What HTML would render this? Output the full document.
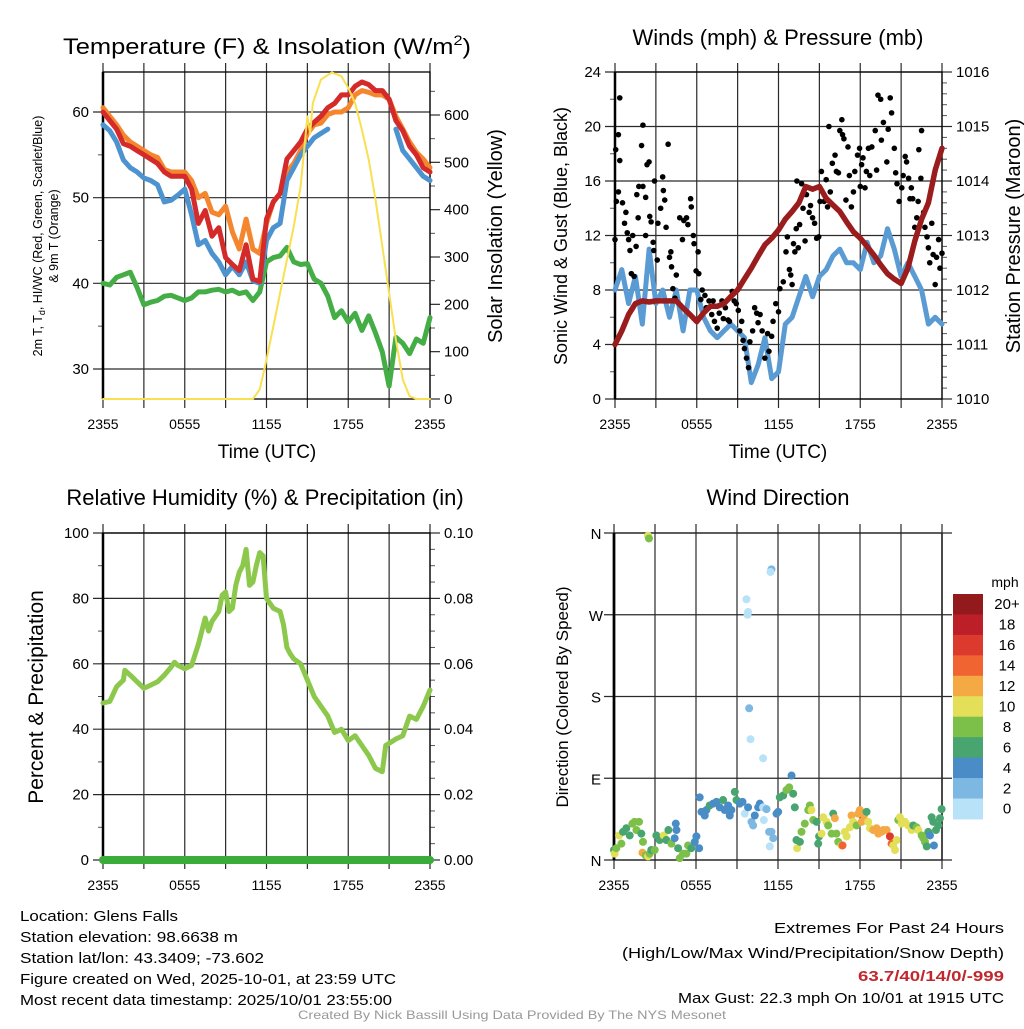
<!DOCTYPE html>
<html><head><meta charset="utf-8"><style>
html,body{margin:0;padding:0;background:#fff;}
svg text{font-family:"Liberation Sans",sans-serif;}
</style></head><body>
<svg id="fig" xmlns="http://www.w3.org/2000/svg" width="1024" height="1024" viewBox="0 0 1024 1024">
<rect width="1024" height="1024" fill="#fff"/>
<g id="layer"></g>
<text x="267" y="54" font-size="22" text-anchor="middle" textLength="408" lengthAdjust="spacingAndGlyphs">Temperature (F) &amp; Insolation (W/m<tspan font-size="14" dy="-9">2</tspan><tspan dy="9">)</tspan></text>
<text x="778" y="45" font-size="22" text-anchor="middle">Winds (mph) &amp; Pressure (mb)</text>
<text x="265" y="505" font-size="22" text-anchor="middle">Relative Humidity (%) &amp; Precipitation (in)</text>
<text x="778" y="505" font-size="22" text-anchor="middle">Wind Direction</text>
<text x="267" y="458" font-size="19" text-anchor="middle">Time (UTC)</text>
<text x="778" y="458" font-size="19" text-anchor="middle">Time (UTC)</text>
<text transform="translate(42,236) rotate(-90)" font-size="12.5" text-anchor="middle">2m T, T<tspan font-size="9" dy="3">d</tspan><tspan dy="-3">, HI/WC (Red, Green, Scarlet/Blue)</tspan></text>
<text transform="translate(58,236) rotate(-90)" font-size="12.5" text-anchor="middle">&amp; 9m T (Orange)</text>
<text transform="translate(502,236) rotate(-90)" font-size="20" text-anchor="middle">Solar Insolation (Yellow)</text>
<text transform="translate(567,236) rotate(-90)" font-size="18" text-anchor="middle">Sonic Wind &amp; Gust (Blue, Black)</text>
<text transform="translate(1020,236) rotate(-90)" font-size="20" text-anchor="middle">Station Pressure (Maroon)</text>
<text transform="translate(43,697) rotate(-90)" font-size="21" text-anchor="middle">Percent &amp; Precipitation</text>
<text transform="translate(568,697) rotate(-90)" font-size="17" text-anchor="middle">Direction (Colored By Speed)</text>
<text x="1005" y="587" font-size="14" text-anchor="middle">mph</text>
<g font-size="14.5">
<text x="20" y="921" textLength="158" lengthAdjust="spacingAndGlyphs">Location: Glens Falls</text>
<text x="20" y="942" textLength="218" lengthAdjust="spacingAndGlyphs">Station elevation: 98.6638 m</text>
<text x="20" y="963" textLength="244" lengthAdjust="spacingAndGlyphs">Station lat/lon: 43.3409; -73.602</text>
<text x="20" y="984" textLength="376" lengthAdjust="spacingAndGlyphs">Figure created on Wed, 2025-10-01, at 23:59 UTC</text>
<text x="20" y="1005" textLength="372" lengthAdjust="spacingAndGlyphs">Most recent data timestamp: 2025/10/01 23:55:00</text>
</g>
<g font-size="15" text-anchor="end">
<text x="1004" y="933" textLength="230" lengthAdjust="spacingAndGlyphs">Extremes For Past 24 Hours</text>
<text x="1004" y="958" textLength="382" lengthAdjust="spacingAndGlyphs">(High/Low/Max Wind/Precipitation/Snow Depth)</text>
<text x="1004" y="981" fill="#c0282d" font-weight="bold" textLength="146" lengthAdjust="spacingAndGlyphs">63.7/40/14/0/-999</text>
<text x="1004" y="1003" textLength="326" lengthAdjust="spacingAndGlyphs">Max Gust: 22.3 mph On 10/01 at 1915 UTC</text>
</g>
<text x="512" y="1019" font-size="12" fill="#999" text-anchor="middle" textLength="428" lengthAdjust="spacingAndGlyphs">Created By Nick Bassill Using Data Provided By The NYS Mesonet</text>
</svg>
<script>
const halfHours=[0,0.5,1,1.5,2,2.5,3,3.5,4,4.5,5,5.5,6,6.5,7,7.5,8,8.5,9,9.5,10,10.5,11,11.5,12,12.5,13,13.5,14,14.5,15,15.5,16,16.5,17,17.5,18,18.5,19,19.5,20,20.5,21,21.5,22,22.5,23,23.5,24];
const xTickLabels=["2355","0555","1155","1755","2355"];
const tempTicks=[30,40,50,60];
const solarTicks=[0,100,200,300,400,500,600];
const windTicks=[0,4,8,12,16,20,24];
const pressTicks=[1010,1011,1012,1013,1014,1015,1016];
const rhTicks=[0,20,40,60,80,100];
const precipTicks=["0.00","0.02","0.04","0.06","0.08","0.10"];
const dirTicks=["N","E","S","W","N"];
const airTemp=[60,59,58,56.3,56,55.5,55,54.5,54,53,52.5,52.5,52.5,51,47,48.5,45.5,46.5,43,42.2,41.5,44.5,40.5,40.2,47.5,49.5,50.5,54.5,55.5,56.5,58,58.8,59.5,60.5,61,62,62,63,63.5,63.2,62.5,62.5,61.5,59,57.8,56,55,53.5,53];
const temp9m=[60.5,59.5,58.5,57.3,56.5,56,55.5,55,54.7,53.3,53,53,53,52,50,50.5,48.3,48,49,46,44,47.5,44,43.5,47,49.5,50.5,53,54,55.5,57.5,58.5,58.7,59.7,60,60,60.5,62,62.5,62.3,62,62,61.5,59.5,58,56.5,55.3,54.5,53.5];
const windChill=[58.5,57.8,56.5,54.4,53.5,53,52.3,52,51.5,49.5,49.7,50.3,51,48,44.5,45,43.5,42.5,41,42,41,42.5,40.3,40,45,46.5,47,52,53.5,55,56,57,57.5,58,null,null,null,null,null,null,null,null,null,58,55.5,54.5,53.5,52.5,52];
const dewPoint=[40,39.8,40.7,41,41.3,39.5,37.5,37.8,38,38.5,38.6,38.3,38,38.3,39,39,39.2,39.3,39,39.2,38.8,39,38,39,42.5,43,43.2,44.2,42.5,42.2,42.3,40.5,40,38.5,36,36.8,35.5,36.5,34.5,36.2,34.2,32,28,33.7,33,31.8,33.5,33,36];
const solarTimes=[0,11,11.5,12,12.5,13,13.5,14,14.5,15,15.2,15.4,16,16.8,17.5,18,18.5,19,19.5,20,20.5,21,21.5,22,22.5,23,24];
const solarValues=[0,0,20,83,153,224,294,365,449,597,560,625,675,690,682,657,625,569,506,421,323,224,125,41,6,0,0];
const windSpeed=[8,9.5,7,9,5.5,11,7,8,6,8,5,8,8,6,5,4.5,5,5.5,5,4.5,1.2,2.5,4.5,1.5,2,5.5,6,7.5,9,7.5,9,9.5,10.5,11,10,10,9.5,11.5,10,10.5,12.5,11,9,10,9,8,5.5,6,5.5];
const pressure=[1011.0,1011.25,1011.55,1011.75,1011.8,1011.78,1011.8,1011.8,1011.8,1011.8,1011.67,1011.55,1011.42,1011.58,1011.7,1011.7,1011.75,1011.88,1012.0,1012.2,1012.4,1012.62,1012.83,1012.95,1013.1,1013.3,1013.44,1013.6,1013.9,1013.85,1013.9,1013.68,1013.56,1013.44,1013.25,1013.07,1012.95,1012.8,1012.64,1012.46,1012.3,1012.2,1012.12,1012.4,1012.9,1013.3,1013.6,1014.2,1014.6];
const gustTimes=[0,0.05,0.1,0.25,0.35,0.35,0.25,0.55,0.7,0.8,0.9,1.0,1.1,1.3,1.2,1.4,1.55,1.6,1.7,1.75,1.95,2.05,2.05,2.25,2.25,2.35,2.5,2.55,2.65,2.8,2.85,2.9,3.1,3.15,3.35,3.5,3.55,3.65,3.75,3.9,4.0,4.1,4.15,4.25,4.5,4.4,4.75,4.95,5.05,5.25,5.35,5.55,5.6,5.75,5.8,5.95,6.1,6.15,6.3,6.4,6.6,6.7,6.9,7.1,7.2,7.3,7.5,7.65,7.85,7.95,8.1,8.3,8.4,8.6,8.75,8.9,9.05,9.15,9.3,9.4,9.5,9.65,9.8,9.9,10.1,10.25,10.4,10.5,10.65,10.8,11.0,11.2,11.3,11.5,11.6,11.8,12.0,12.1,12.35,12.55,12.65,12.8,12.9,13.0,13.1,13.2,13.3,13.45,13.55,13.35,13.7,13.8,13.95,14.05,14.25,14.35,14.5,14.65,14.8,14.95,15.05,15.15,15.35,15.5,15.6,15.7,15.8,15.95,16.15,16.25,16.4,16.5,16.65,16.7,16.8,16.95,17.1,17.2,17.35,17.5,17.6,17.8,17.95,18.0,18.1,18.2,18.35,18.45,18.6,18.7,18.85,19.1,19.2,19.3,19.5,19.55,19.7,19.95,20.05,20.2,20.3,20.5,20.6,20.7,20.85,21.05,21.15,21.3,21.4,21.55,21.65,21.75,21.85,22.0,22.15,22.25,22.3,22.45,22.5,22.65,22.75,22.9,23.0,23.1,23.25,23.35,23.5,23.6,23.75,23.85,24.0];
const gustValues=[11.7,18.3,14.5,19.4,22.1,17.5,15.2,14.4,12.9,13.7,12.2,11.7,10.9,12.0,9.2,9.0,11.2,15.0,13.3,15.6,18.6,20.1,15.6,14.8,12.0,17.2,17.4,13.4,13.0,11.5,10.9,16.0,10.2,12.9,14.0,16.3,15.3,14.6,12.6,18.7,10.4,10.8,9.7,8.1,9.1,7.4,13.3,11.7,13.1,13.3,12.8,14.7,14.1,12.0,11.4,9.4,10.8,9.2,7.3,8.0,7.6,6.7,7.2,6.2,7.2,5.7,5.2,6.3,7.2,5.9,6.7,5.8,5.7,7.9,7.2,7.0,6.5,5.0,5.7,4.3,3.7,3.0,2.3,4.2,5.0,6.7,6.3,5.6,6.2,5.0,3.0,4.8,3.5,4.6,5.7,7.0,6.4,8.1,8.6,10.8,11.9,9.5,9.1,8.4,11.4,10.8,12.5,11.1,12.8,16.0,15.8,14.0,11.6,15.0,13.7,14.2,13.3,12.9,11.8,11.9,14.5,16.7,14.5,16.1,14.1,20.0,15.2,17.3,17.9,16.7,16.6,19.7,20.5,19.4,19.1,14.6,18.5,16.4,14.1,15.2,16.7,17.9,18.4,15.6,17.2,17.7,15.5,16.7,18.4,16.4,18.5,19.7,16.8,22.3,22.0,19.0,20.3,17.4,19.8,22.1,21.0,18.4,16.6,15.8,14.5,15.5,16.4,17.8,17.4,16.2,14.7,15.5,14.7,12.6,13.3,14.5,18.3,16.2,19.7,13.7,12.6,11.9,11.1,10.0,12.9,10.6,8.4,10.4,11.7,9.6,10.7];
const rhTimes=[0,0.5,1,1.5,1.6,2,2.5,3,3.5,4,4.5,5,5.25,5.5,6,6.5,7,7.5,7.75,8,8.5,8.75,9,9.25,9.5,9.75,10,10.25,10.5,10.75,11,11.25,11.5,11.75,12,12.5,13,13.25,13.5,13.75,14,14.5,15,15.5,16,16.5,17,17.5,18,18.5,19,19.5,20,20.5,20.75,21.5,22,22.5,23,23.5,24];
const rhValues=[48,48.5,53,55,58,56.5,54.5,52.5,53.5,54.5,56.5,59,60.5,59.5,58.5,59.5,66,74,70,73,76,81,82,76,77,84,88,90,95,84,85,90,94,93,80,77,76,72,65,63,61.5,60,55,50,47,44,39,40,36.5,38,35,32,28,27,35,37,38,44,43,47,52];
const precipValues=[0,0,0,0,0,0,0,0,0,0,0,0,0,0,0,0,0,0,0,0,0,0,0,0,0,0,0,0,0,0,0,0,0,0,0,0,0,0,0,0,0,0,0,0,0,0,0,0,0];
const dirTimes=[0,0.05,0.17,0.37,0.54,0.66,0.9,1.15,1.34,1.51,1.64,1.83,2.0,2.12,2.08,2.32,2.49,2.61,2.73,2.98,3.1,3.34,3.64,3.83,3.98,4.2,4.44,4.52,4.57,4.69,4.81,5.05,5.3,5.42,5.66,5.91,6.03,6.23,2.49,2.56,6.27,6.4,6.64,6.76,7.0,7.25,7.5,7.74,7.98,8.1,8.35,8.47,8.59,8.84,8.96,9.2,9.4,9.57,9.81,10.06,10.18,10.3,10.55,10.67,10.91,10.96,11.16,11.35,11.52,11.65,11.4,11.89,12.01,9.69,9.81,9.77,9.89,9.99,10.91,11.52,11.45,12.13,12.38,12.62,12.82,12.99,13.11,13.23,13.35,13.4,13.6,13.72,13.96,14.21,14.33,14.45,14.58,14.82,14.94,15.01,15.19,15.31,15.55,15.67,15.92,16.04,16.16,16.28,16.41,16.65,16.72,16.89,17.02,17.26,17.38,17.5,17.75,17.87,17.99,18.12,18.29,18.48,18.6,18.73,18.97,19.21,19.34,19.58,19.7,19.95,20.19,20.31,20.43,20.56,20.68,20.8,20.92,21.04,21.29,21.53,21.78,21.9,22.14,22.27,22.51,22.63,22.75,22.88,23.0,23.12,23.24,23.36,23.41,23.56,23.73,23.85,23.97];
const dirValues=[11,7,13,27,18,31,35,27,40,42,33,42,29,20,8,5,4,7,11,11,27,22,27,22,33,18,24,40,33,13,2,7,7,16,13,20,26,13,357,354,69,53,49,55,60,62,64,58,66,55,60,49,55,75,66,62,64,51,58,42,38,49,58,62,58,44,56,31,31,24,15,51,53,287,273,270,167,133,112,320,317,69,71,77,80,93,73,58,22,13,20,31,40,55,60,55,44,42,18,26,29,47,42,38,29,51,46,29,20,16,16,31,26,36,49,42,38,51,55,42,49,53,42,35,33,35,29,31,33,33,26,18,16,11,22,44,47,40,42,38,33,38,36,33,27,24,20,15,31,27,47,42,16,33,38,46,56];
const dirSpeeds=[7,10,9,10,9,7,7,6,8,8,9,8,7,8,13,8,10,9,6,8,6,7,10,7,6,8,4,4,4,6,8,8,8,8,7,4,4,4,10,8,4,4,4,4,6,4,4,4,6,4,4,4,4,6,6,4,4,0,4,2,2,4,4,4,0,0,2,2,2,2,0,4,4,0,0,0,2,0,0,2,0,6,7,8,8,4,6,6,6,10,6,8,8,8,8,10,8,6,6,6,10,10,10,8,8,6,12,8,8,10,15,10,10,10,13,10,8,12,12,12,13,7,10,10,12,12,12,12,13,12,16,14,11,10,10,9,10,10,10,10,10,7,9,10,8,8,8,6,6,5,6,6,4,6,6,6,6];
const speedBins=["0","2","4","6","8","10","12","14","16","18","20+"];
const speedColors=["#b8e2f8","#7cb8e2","#4a8cc5","#48a56f","#7cc04a","#e4df58","#f5a945","#ef6430","#dc3a2c","#bd1f29","#921a1d"];

const NS='http://www.w3.org/2000/svg';
const layer=document.getElementById('layer');
function mk(tag,attrs,parent){const e=document.createElementNS(NS,tag);for(const k in attrs)e.setAttribute(k,attrs[k]);(parent||layer).appendChild(e);return e;}
function txt(s,x,y,size,anchor,parent){const e=mk('text',{x:x,y:y,'font-size':size,'text-anchor':anchor||'middle'},parent);e.textContent=s;return e;}

const panels={
 temp:{x0:103,x1:430,y0:72,y1:399},
 wind:{x0:615,x1:942,y0:72,y1:399},
 rh:{x0:103,x1:430,y0:533,y1:860},
 dir:{x0:614,x1:942,y0:533,y1:860}
};
function xScale(p){return t=>p.x0+t/24*(p.x1-p.x0);}
function lin(d0,d1,r0,r1){return v=>r0+(v-d0)/(d1-d0)*(r1-r0);}

function frame(p,name,leftTicks,leftScale,leftMinor,rightTicks,rightScale,rightMinor,rightLabels){
 const g=mk('g',{});
 
 
 const xs=xScale(p);
 for(let h=0;h<=24;h+=3){
  const x=xs(h);
  mk('line',{x1:x,x2:x,y1:p.y0-9,y2:p.y1+9,stroke:'#2a2a2a','stroke-width':1.2},g);
 }
 xTickLabels.forEach((s,i)=>{const t=txt(s,xs(i*6),p.y1+30,14,'middle',g);
  
  });
 leftMinor.forEach(v=>mk('line',{x1:p.x0-5,x2:p.x0,y1:leftScale(v),y2:leftScale(v),stroke:'#555','stroke-width':1},g));
 leftTicks.forEach(v=>{const y=leftScale(v);
  mk('line',{x1:p.x0-10,x2:p.x1,y1:y,y2:y,stroke:'#2a2a2a','stroke-width':1.2},g);
  const t=txt(String(v),p.x0-14,y+5,15,'end',g);
  
  });
 if(rightScale){
  rightMinor.forEach(v=>mk('line',{x1:p.x1,x2:p.x1+5,y1:rightScale(v),y2:rightScale(v),stroke:'#555','stroke-width':1},g));
  rightTicks.forEach((v,i)=>{const y=rightScale(v);
   mk('line',{x1:p.x1,x2:p.x1+10,y1:y,y2:y,stroke:'#2a2a2a','stroke-width':1.2},g);
   const t=txt(rightLabels?rightLabels[i]:String(v),p.x1+14,y+5,15,'start',g);
   
   });
 }
 mk('rect',{x:p.x0,y:p.y0,width:p.x1-p.x0,height:p.y1-p.y0,fill:'none',stroke:'#000','stroke-width':1.3},g);
 mk('line',{x1:p.x0,x2:p.x0,y1:p.y0,y2:p.y1,stroke:'#000','stroke-width':2.5},g);
 return g;
}
function pathFrom(ts,vs,xs,ys){let d='',pen=false;
 for(let i=0;i<ts.length;i++){if(vs[i]===null){pen=false;continue;}
  d+=(pen?'L':'M')+xs(ts[i]).toFixed(1)+','+ys(vs[i]).toFixed(1);pen=true;}return d;}
function line(ts,vs,xs,ys,color,w,name){
 const e=mk('path',{d:pathFrom(ts,vs,xs,ys),fill:'none',stroke:color,'stroke-width':w,'stroke-linejoin':'round','stroke-linecap':'round'});
 
 
 return e;}

// Panel 1
{const p=panels.temp,xs=xScale(p);
 const yT=lin(60,30,112,369),yS=lin(0,600,399,115);
 frame(p,'temperature',tempTicks,yT,[35,45,55],solarTicks,yS,[50,150,250,350,450,550,650],null);
 line(halfHours,dewPoint,xs,yT,'#45ad45',5,'dewpoint-line');
 line(halfHours,temp9m,xs,yT,'#f58630',5,'temp-9m-line');
 line(halfHours,windChill,xs,yT,'#4d93cf',5,'wind-chill-line');
 line(halfHours,airTemp,xs,yT,'#d42a2a',5,'air-temp-line');
 line(solarTimes,solarValues,xs,yS,'#f8e050',2,'solar-line');
}
// Panel 2
{const p=panels.wind,xs=xScale(p);
 const yW=lin(0,24,399,72),yP=lin(1010,1016,399,72);
 frame(p,'winds',windTicks,yW,[2,6,10,14,18,22],pressTicks,yP,[1010.2,1010.4,1010.6,1010.8,1011.2,1011.4,1011.6,1011.8,1012.2,1012.4,1012.6,1012.8,1013.2,1013.4,1013.6,1013.8,1014.2,1014.4,1014.6,1014.8,1015.2,1015.4,1015.6,1015.8],null);
 line(halfHours,windSpeed,xs,yW,'#5a9bd3',5,'sonic-wind-line');
 gustTimes.forEach((t,i)=>{const c=mk('circle',{cx:xs(t),cy:yW(gustValues[i]),r:2.8,fill:'#000'});
  
  });
 line(halfHours,pressure,xs,yP,'#9b1c1c',5.5,'pressure-line');
}
// Panel 3
{const p=panels.rh,xs=xScale(p);
 const yR=lin(0,100,860,533),yPr=lin(0,0.1,860,533);
 frame(p,'humidity',rhTicks,yR,[10,30,50,70,90],[0,0.02,0.04,0.06,0.08,0.1],yPr,[0.005,0.01,0.015,0.025,0.03,0.035,0.045,0.05,0.055,0.065,0.07,0.075,0.085,0.09,0.095],precipTicks);
 line(rhTimes,rhValues,xs,yR,'#8cc84b',5,'humidity-line');
 line(halfHours,precipValues,xs,yPr,'#3aac3a',8,'precipitation-line');
}
// Panel 4
{const p=panels.dir,xs=xScale(p);
 const yD=lin(0,360,860,533);
 frame(p,'direction',[],yD,[],null,null,[],null);
 dirTicks.forEach((s,i)=>{const y=yD(i*90);
  mk('line',{x1:p.x0-10,x2:p.x1+10,y1:y,y2:y,stroke:'#2a2a2a','stroke-width':1.2});
  const t=txt(s,p.x0-18,y+6,15,'middle');
  
  });
 mk('line',{x1:p.x0,x2:p.x0,y1:p.y0,y2:p.y1,stroke:'#000','stroke-width':2.5});
 dirTimes.forEach((t,i)=>{const s=dirSpeeds[i]||0;const bin=Math.min(10,Math.floor(s/2));
  const c=mk('circle',{cx:xs(t),cy:yD(dirValues[i]),r:4,fill:speedColors[bin]});
  
  });
 const cb=mk('g',{});
 
 
 const top=594,bh=20.45;
 speedBins.forEach((lab,i)=>{const k=10-i;const y=top+i*bh;
  mk('rect',{x:953,y:y,width:30,height:bh+0.5,fill:speedColors[k]},cb);
  const t=txt(speedBins[k],1007,y+bh/2+5,15,'middle',cb);
  
  });
}
</script>
</body></html>
